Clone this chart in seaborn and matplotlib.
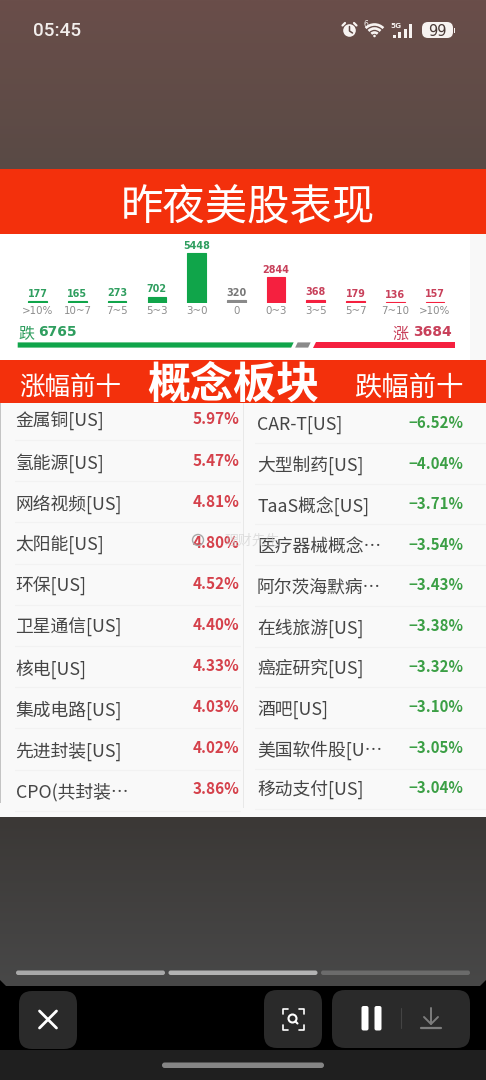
import numpy as np
import matplotlib
matplotlib.use("Agg")
import matplotlib.pyplot as plt
from matplotlib.patches import FancyBboxPatch, Rectangle, Polygon, Circle, Arc
import seaborn as sns

sns.set_theme(style="white")
plt.rcParams['font.family'] = ['Noto Sans CJK SC', 'DejaVu Sans']
plt.rcParams['patch.linewidth'] = 0
plt.rcParams['patch.edgecolor'] = 'none'

# ---------- data ----------
bucket_labels = [">10%", "10~7", "7~5", "5~3", "3~0", "0", "0~3", "3~5", "5~7", "7~10", ">10%"]
bucket_counts = [177, 165, 273, 702, 5448, 320, 2844, 368, 179, 136, 157]
bucket_sides = ["down"] * 5 + ["flat"] + ["up"] * 5
total_down = 6765
total_flat = 320
total_up = 3684

gainer_names = ["金属铜[US]", "氢能源[US]", "网络视频[US]", "太阳能[US]", "环保[US]",
                "卫星通信[US]", "核电[US]", "集成电路[US]", "先进封装[US]", "CPO(共封装…"]
gainer_values = [5.97, 5.47, 4.81, 4.80, 4.52, 4.40, 4.33, 4.03, 4.02, 3.86]
loser_names = ["CAR-T[US]", "大型制药[US]", "TaaS概念[US]", "医疗器械概念…", "阿尔茨海默病…",
               "在线旅游[US]", "癌症研究[US]", "酒吧[US]", "美国软件股[U…", "移动支付[US]"]
loser_values = [-6.52, -4.04, -3.71, -3.54, -3.43, -3.38, -3.32, -3.10, -3.05, -3.04]

GREEN = "#10a54a"
RED = "#f5203f"
GRAY = "#8a8a8a"
palette = {"down": GREEN, "flat": GRAY, "up": RED}
label_colors = {"down": "#2f9e5f", "flat": "#777777", "up": "#c8405a"}
BANNER = "#f3300c"

W, H = 486, 1080
fig = plt.figure(figsize=(W / 100, H / 100), dpi=100, facecolor="black")
bg = fig.add_axes([0, 0, 1, 1], zorder=0)
bg.axis("off")


def gradient(y0, y1, top, bottom):
    c0, c1 = matplotlib.colors.to_rgb(top), matplotlib.colors.to_rgb(bottom)
    arr = np.linspace(c0, c1, 64).reshape(64, 1, 3)
    bg.imshow(arr, extent=(0, W, y1, y0), aspect="auto", zorder=0)


def rect(x, y, w, h, color, z=1):
    bg.add_patch(Rectangle((x, y), w, h, fc=color, ec="none", lw=0, zorder=z))


def rbox(x, y, w, h, r, color, z=2):
    bg.add_patch(FancyBboxPatch((x + r, y + r), w - 2 * r, h - 2 * r,
                                boxstyle=f"round,pad={r},rounding_size={r}",
                                fc=color, ec="none", lw=0, zorder=z))


# ---------- backgrounds ----------
gradient(0, 169, "#6a4e4a", "#594a45")
gradient(817, 987, "#3b3836", "#484848")
rect(0, 986, W, 64, "black")
rect(0, 1050, W, 30, "#1f1f1f")
rect(0, 169, W, 65, BANNER)
rect(0, 234, W, 126, "white")
rect(470, 234, 16, 126, "#f8f8f8")
rect(0, 360, W, 43, BANNER)
rect(0, 403, W, 414, "#f9f9f9")
rect(0, 403, 1, 400, "#c4c4c4", 2)
rect(243, 403, 1, 405, "#e8e8e8", 2)
for pts in ([(0, 980), (0, 986), (6, 986)], [(W, 980), (W, 986), (W - 6, 986)]):
    bg.add_patch(Polygon(pts, fc="black", ec="none", lw=0, zorder=2))

# ---------- banner text ----------
bg.text(248, 208, "昨夜美股表现", color="white", fontsize=30.5, ha="center", va="center", zorder=3)
bg.text(233, 385, "概念板块", color="white", fontsize=31, fontweight="bold", ha="center", va="center", zorder=3)
bg.text(70, 388, "涨幅前十", color="white", fontsize=18.4, ha="center", va="center", zorder=3)
bg.text(409, 388, "跌幅前十", color="white", fontsize=19.7, ha="center", va="center", zorder=3)

# ---------- distribution bars ----------
px_per_count = 49.7 / 5448
bax = fig.add_axes([17.83 / W, (H - 303) / H, (454.87 - 17.83) / W, 60 / H], zorder=2)
bax.patch.set_alpha(0)
order = list(range(len(bucket_counts)))
sns.barplot(x=order, y=bucket_counts, hue=bucket_sides, palette=palette, dodge=False, saturation=1,
            width=0.47, legend=False, ax=bax, order=order)
for cont, side in zip(bax.containers, ["down", "flat", "up"]):
    for r in cont.patches:
        r.set_edgecolor(palette[side])
        r.set_linewidth(0.8)
bax.set_xlim(-0.5, 10.5)
bax.set_ylim(0, 60 / px_per_count)
bax.set_xticks(order)
bax.set_xticklabels(bucket_labels, fontsize=7.4, color="#8c8c8c", family="DejaVu Sans")
bax.tick_params(axis="x", length=0, pad=2)
bax.set_yticks([])
bax.set_xlabel("")
bax.set_ylabel("")
sns.despine(ax=bax, left=True, bottom=True)
for i, (v, s) in enumerate(zip(bucket_counts, bucket_sides)):
    bax.annotate(str(v), (i, v), xytext=(0, 1.6), textcoords="offset points", ha="center", va="bottom",
                 fontsize=6.9, fontweight="bold", family="DejaVu Sans", color=label_colors[s])

# ---------- totals bar ----------
total = total_down + total_flat + total_up
x0, x1 = 17.7, 455.0
scale = (x1 - x0) / total
green_end = x0 + total_down * scale
gray_start = green_end + 4
gray_end = gray_start + total_flat * scale
red_start = gray_end + 5
yt, yb = 342.4, 347.6
skew = 2.5
for pts, col in (([(x0, yt), (green_end + skew / 2, yt), (green_end - skew / 2, yb), (x0, yb)], GREEN),
                 ([(gray_start + skew / 2, yt), (gray_end + skew / 2, yt), (gray_end - skew / 2, yb),
                   (gray_start - skew / 2, yb)], GRAY),
                 ([(red_start + skew / 2, yt), (x1, yt), (x1, yb), (red_start - skew / 2, yb)], RED)):
    bg.add_patch(Polygon(pts, fc=col, ec="none", lw=0, zorder=3))
bg.text(18, 334, "跌", color="#2f9e5f", fontsize=11.5, ha="left", va="center", zorder=3)
bg.text(38, 332.5, str(total_down), color="#2f9e5f", fontsize=10, fontweight="bold",
        family="DejaVu Sans", ha="left", va="center", zorder=3)
bg.text(452, 332.5, str(total_up), color="#c8405a", fontsize=10, fontweight="bold",
        family="DejaVu Sans", ha="right", va="center", zorder=3)
bg.text(408, 334, "涨", color="#c8405a", fontsize=11.5, ha="right", va="center", zorder=3)

# ---------- tables ----------
for i, (n, v) in enumerate(zip(gainer_names, gainer_values)):
    bg.text(15.5, 421.5 + 41.2 * i, n, color="#454545", fontsize=12.8, ha="left", va="center", zorder=3)
    bg.text(239.5, 419.5 + 41.1 * i, f"{v:.2f}%", color="#d5414b", fontsize=11, fontweight="bold",
            ha="right", va="center", zorder=3)
    bg.plot([15, 240], [440 + 41.2 * i] * 2, color="#f2f2f2", lw=0.8, zorder=2)
for i, (n, v) in enumerate(zip(loser_names, loser_values)):
    bg.text(257, 424.5 + 40.7 * i, n, color="#454545", fontsize=12.8, ha="left", va="center", zorder=3)
    bg.text(463.5, 423 + 40.6 * i, f"−{abs(v):.2f}%", color="#3b9f45", fontsize=10.8, fontweight="bold",
            ha="right", va="center", zorder=3)
    bg.plot([255, W], [443 + 40.7 * i] * 2, color="#f2f2f2", lw=0.8, zorder=2)

# watermark
bg.add_patch(Circle((198, 540), 5.5, fc="none", ec="#a8a8a8", lw=1, zorder=4))
bg.text(252, 541, "理财先生", color="#c9c9c9", fontsize=10, ha="center", va="center", alpha=0.55, zorder=4)

# ---------- status bar ----------
bg.text(33, 31, "05:45", color="#f2eeec", fontsize=13.6, fontweight="medium", family="Roboto",
        ha="left", va="center", zorder=3)
# alarm
bg.add_patch(Circle((349.5, 30.5), 6.3, fc="#f7f3f1", ec="none", lw=0, zorder=3))
bg.plot([349.5, 349.5, 352.5], [26.5, 31, 33], color="#5f4a46", lw=1.1, zorder=4)
bg.plot([342.5, 345], [25.5, 23], color="#f7f3f1", lw=1.6, zorder=3)
bg.plot([354, 356.5], [23, 25.5], color="#f7f3f1", lw=1.6, zorder=3)
# wifi
for r in (12.5, 8.5, 4.5):
    bg.add_patch(Arc((374.5, 37), 2 * r, 2 * r, theta1=225, theta2=315, ec="#f7f3f1", lw=1.9, zorder=3))
bg.add_patch(Circle((374.5, 36), 1.3, fc="#f7f3f1", ec="none", lw=0, zorder=3))
bg.text(365.5, 24.5, "6", color="#f7f3f1", fontsize=5.5, ha="center", va="center", family="DejaVu Sans", zorder=3)
# signal
bg.text(396, 25.5, "5G", color="#f7f3f1", fontsize=5.2, fontweight="bold", ha="center", va="center",
        family="DejaVu Sans", zorder=3)
for x, h in zip((392.5, 398, 403.5, 409), (3, 6, 9, 14)):
    rect(x, 37.5 - h, 3.4, h, "#f7f3f1", 3)
# battery
rbox(422, 22, 31, 16, 6, "#f7f3f1", z=3)
rect(453.5, 27.5, 1.5, 5, "#f7f3f1", 3)
bg.text(437, 30.5, "99", color="#4a3b38", fontsize=10.5, family="DejaVu Sans",
        ha="center", va="center_baseline", zorder=4)

# ---------- progress bars ----------
rbox(16, 970.5, 149, 4.5, 2.2, "#a9a9a9", z=3)
rbox(168.5, 970.5, 149, 4.5, 2.2, "#b3b3b3", z=3)
rbox(321, 970.5, 149, 4.5, 2.2, "#6b6b6b", z=3)

# ---------- controls ----------
rbox(19, 991, 58, 58, 13, "#2a2a2a", z=3)
rbox(264, 990, 58, 58, 13, "#2a2a2a", z=3)
rbox(332, 990, 138, 58, 13, "#2a2a2a", z=3)
bg.plot([39.5, 56.5], [1011, 1028], color="white", lw=2, solid_capstyle="round", zorder=4)
bg.plot([39.5, 56.5], [1028, 1011], color="white", lw=2, solid_capstyle="round", zorder=4)
# scan icon
bx0, bx1, by0, by1 = 282.5, 304, 1008.5, 1029.5
for cx, cy, sx, sy in ((bx0, by0, 1, 1), (bx1, by0, -1, 1), (bx0, by1, 1, -1), (bx1, by1, -1, -1)):
    bg.plot([cx + 5 * sx, cx, cx], [cy, cy, cy + 5 * sy], color="white", lw=1.2, zorder=4,
            solid_joinstyle="round")
bg.add_patch(Circle((292.5, 1018.5), 4, fc="none", ec="white", lw=1.5, zorder=4))
bg.plot([295.5, 297.5], [1021.5, 1023.5], color="white", lw=1.5, zorder=4)
# pause
rbox(361.5, 1006, 7, 24.5, 2, "white", z=4)
rbox(374.5, 1006, 7, 24.5, 2, "white", z=4)
bg.plot([401, 401], [1008, 1028], color="#444444", lw=0.8, zorder=4)
# download
bg.plot([431, 431], [1008, 1024], color="#7d7d7d", lw=1.4, zorder=4)
bg.plot([424, 431, 438], [1017, 1024, 1017], color="#7d7d7d", lw=1.4, zorder=4)
bg.plot([421, 440.5], [1028, 1028], color="#7d7d7d", lw=1.6, zorder=4)
# home pill
rbox(162, 1062.5, 162, 5.5, 2.7, "#858585", z=3)

bg.set_xlim(0, W)
bg.set_ylim(H, 0)
fig.savefig("out.png", dpi=100, facecolor=fig.get_facecolor())
